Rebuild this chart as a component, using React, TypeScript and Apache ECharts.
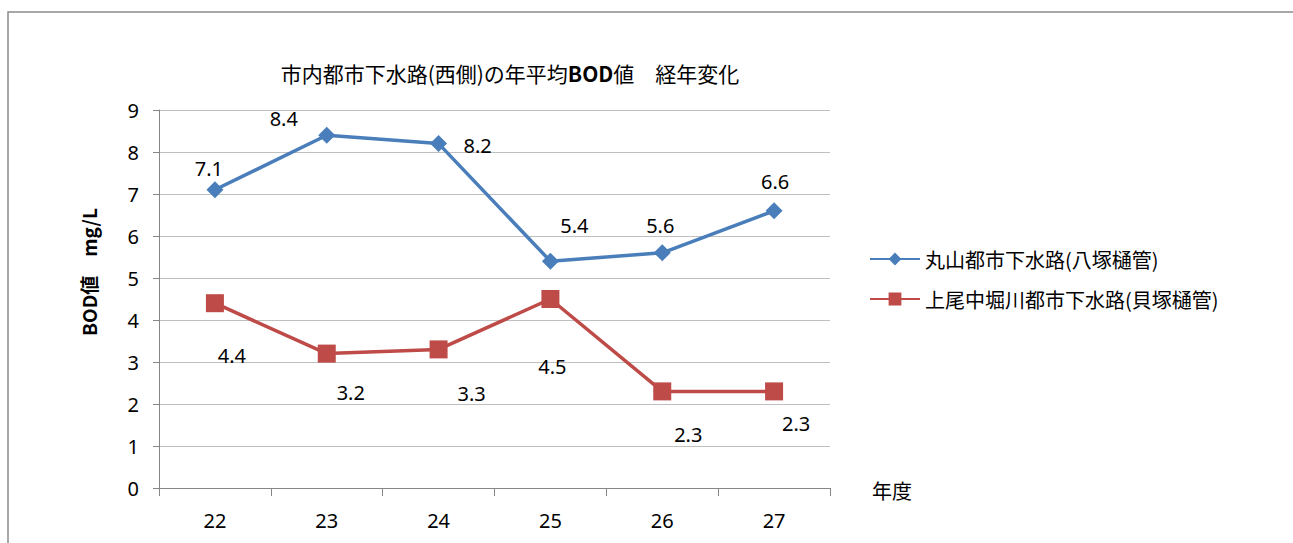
import React, { useEffect, useRef } from "react";
import * as echarts from "echarts";

// 年度 (Heisei) categories and annual mean BOD values (mg/L)
const years = ["22", "23", "24", "25", "26", "27"];
const maruyama = [7.1, 8.4, 8.2, 5.4, 5.6, 6.6];
const kamio = [4.4, 3.2, 3.3, 4.5, 2.3, 2.3];
const seriesNames = ["丸山都市下水路(八塚樋管)", "上尾中堀川都市下水路(貝塚樋管)"];

// label offsets (px) from each marker
const maruyamaLabelOffsets = [[-6, -21], [-43, -17], [39, 2], [24, -36], [-2, -27], [1, -29]];
const kamioLabelOffsets = [[17, 52], [24, 39], [33, 44], [2, 67], [26, 43], [22, 32]];

const jpFont = "'Noto Sans CJK JP', 'Noto Sans', sans-serif";
const numFont = "'Noto Sans', 'Noto Sans CJK JP', sans-serif";

function withLabels(values: number[], offsets: number[][]) {
  return values.map((v, i) => ({
    value: v,
    label: {
      show: true,
      position: "inside",
      offset: offsets[i],
      align: "center",
      verticalAlign: "middle",
      formatter: String(v),
      color: "#000",
      fontSize: 20,
      fontFamily: numFont,
    },
  }));
}

export default function App() {
  const ref = useRef<HTMLDivElement>(null);

  useEffect(() => {
    if (!ref.current) return;
    const chart = echarts.init(ref.current, undefined, { renderer: "svg" });
    chart.setOption({
      animation: false,
      backgroundColor: "#fff",
      title: {
        text: "{a|市内都市下水路(西側)の年平均}{b|BOD}{a|値　経年変化}",
        left: 505,
        top: 57,
        textAlign: "center",
        textStyle: {
          fontWeight: "normal",
          rich: {
            a: { fontSize: 21, fontFamily: jpFont, fontWeight: "normal", color: "#000" },
            b: { fontSize: 21, fontFamily: jpFont, fontWeight: "bold", color: "#000" },
          },
        },
      },
      graphic: [
        {
          type: "rect",
          shape: { x: 8, y: 12, width: 1400, height: 700 },
          style: { fill: "none", stroke: "#8c8c8c", lineWidth: 1.5 },
          silent: true,
        },
        {
          type: "text",
          x: 88,
          y: 272,
          rotation: Math.PI / 2,
          style: {
            text: "BOD値　mg/L",
            fontSize: 19,
            fontWeight: "bold",
            fontFamily: jpFont,
            fill: "#000",
            align: "center",
            verticalAlign: "middle",
          },
          silent: true,
        },
      ],
      legend: {
        orient: "vertical",
        left: 864,
        top: 244,
        itemGap: 20,
        itemWidth: 50,
        itemHeight: 16,
        textStyle: { fontSize: 20, fontFamily: jpFont, color: "#000" },
        data: seriesNames,
      },
      grid: { left: 159, right: 463, top: 110, bottom: 55 },
      xAxis: {
        type: "category",
        data: years,
        boundaryGap: true,
        name: "年度",
        nameLocation: "end",
        nameGap: 42,
        nameTextStyle: {
          fontSize: 20,
          fontFamily: jpFont,
          color: "#000",
          verticalAlign: "top",
          padding: [-8, 0, 0, 0],
        },
        axisLine: { lineStyle: { color: "#868686", width: 1 } },
        axisTick: { show: true, length: 8, lineStyle: { color: "#868686" } },
        axisLabel: { margin: 22, fontSize: 20, fontFamily: numFont, color: "#000" },
        splitLine: { show: false },
      },
      yAxis: {
        type: "value",
        min: 0,
        max: 9,
        interval: 1,
        axisLine: { show: true, lineStyle: { color: "#868686", width: 1 } },
        axisTick: { show: true, length: 6, lineStyle: { color: "#868686" } },
        axisLabel: { margin: 20, fontSize: 20, fontFamily: numFont, color: "#000" },
        splitLine: { lineStyle: { color: "#bfbfbf", width: 1 } },
      },
      series: [
        {
          name: seriesNames[0],
          type: "line",
          data: withLabels(maruyama, maruyamaLabelOffsets),
          symbol: "diamond",
          symbolSize: 17,
          lineStyle: { color: "#4a7ebb", width: 3.5 },
          itemStyle: { color: "#4a7ebb" },
        },
        {
          name: seriesNames[1],
          type: "line",
          data: withLabels(kamio, kamioLabelOffsets),
          symbol: "rect",
          symbolSize: 18,
          lineStyle: { color: "#be4b48", width: 3.5 },
          itemStyle: { color: "#be4b48" },
        },
      ],
    });
    return () => chart.dispose();
  }, []);

  return (
    <div
      ref={ref}
      style={{ position: "fixed", left: 0, top: 0, width: 1293, height: 543 }}
    />
  );
}
